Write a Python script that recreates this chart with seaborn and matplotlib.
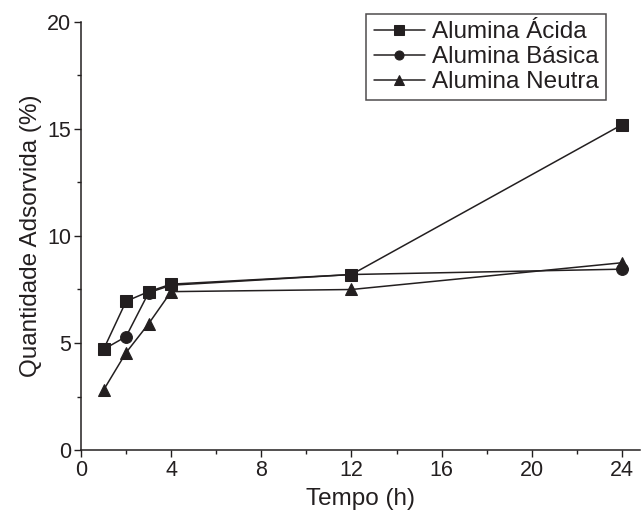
import matplotlib
matplotlib.use("Agg")
import matplotlib.pyplot as plt
import seaborn as sns
import pandas as pd
from matplotlib.ticker import MultipleLocator

tempo = [1, 2, 3, 4, 12, 24]
acida = [4.7, 6.95, 7.4, 7.75, 8.2, 15.2]
basica = [4.7, 5.3, 7.35, 7.7, 8.2, 8.45]
neutra = [2.8, 4.55, 5.9, 7.4, 7.5, 8.75]
series_names = ["Alumina Ácida", "Alumina Básica", "Alumina Neutra"]

rows = []
for name, vals in zip(series_names, [acida, basica, neutra]):
    for t, v in zip(tempo, vals):
        rows.append({"Tempo": t, "Valor": v, "Série": name})
df = pd.DataFrame(rows)

sns.set_theme(style="ticks")
plt.rcParams['font.family'] = ['Liberation Sans', 'DejaVu Sans']

fig = plt.figure(figsize=(6.41, 5.15), dpi=100)
ax = fig.add_axes([81/641, 65/515, 559/641, 428/515])

ink = "#231f20"
sns.lineplot(data=df, x="Tempo", y="Valor", hue="Série", style="Série",
             markers={"Alumina Ácida": "s", "Alumina Básica": "o", "Alumina Neutra": "^"},
             dashes=False, palette=[ink, ink, ink], markersize=8.5,
             markeredgecolor=ink, linewidth=1.1, ax=ax, legend=True)

ax.set_xlim(0, 24.8)
ax.set_ylim(0, 20)
ax.xaxis.set_major_locator(MultipleLocator(4))
ax.xaxis.set_minor_locator(MultipleLocator(2))
ax.yaxis.set_major_locator(MultipleLocator(5))
ax.yaxis.set_minor_locator(MultipleLocator(2.5))
ax.tick_params(which='major', direction='out', length=5, width=1, colors=ink,
               labelsize=15.5, labelcolor=ink, pad=2)
ax.tick_params(which='minor', direction='out', length=3, width=1, colors=ink)
for s in ["top", "right"]:
    ax.spines[s].set_visible(False)
for s in ["left", "bottom"]:
    ax.spines[s].set_color(ink)
    ax.spines[s].set_linewidth(1.1)

ax.set_xlabel("Tempo (h)", fontsize=17.5, color=ink, labelpad=5)
ax.set_ylabel("Quantidade Adsorvida (%)", fontsize=17.5, color=ink, labelpad=4)

handles, labels = ax.get_legend_handles_labels()
for h in handles:
    h.set_markersize(6.5)
leg = ax.legend(handles, labels, loc="upper right",
                bbox_to_anchor=(606/641, 1 - 14/515), bbox_transform=fig.transFigure,
                borderaxespad=0, fontsize=17.5, frameon=True, fancybox=False,
                handlelength=2.1, handletextpad=0.3, labelspacing=0.12,
                borderpad=0.3)
leg.get_frame().set_edgecolor(ink)
leg.get_frame().set_linewidth(1.1)
for t in leg.get_texts():
    t.set_color(ink)

fig.savefig("out.png", dpi=100)
